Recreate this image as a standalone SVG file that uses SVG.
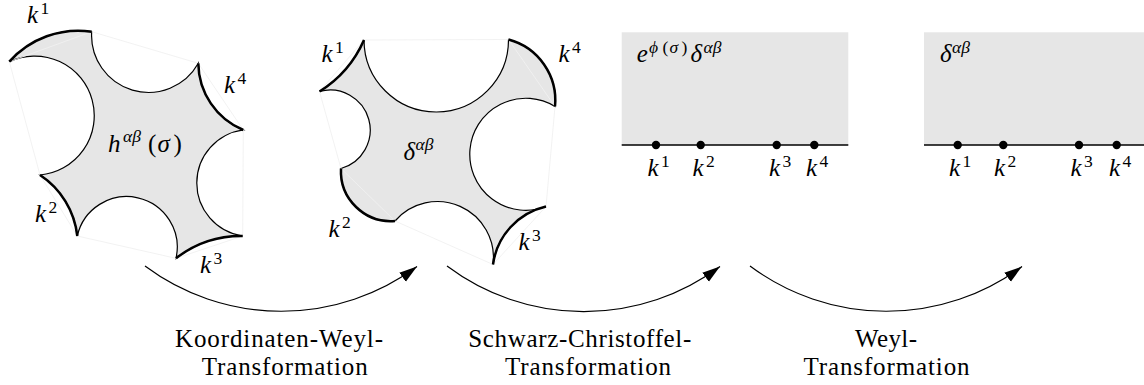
<svg xmlns="http://www.w3.org/2000/svg" width="1144" height="385" viewBox="0 0 1144 385">
<style>
.fill{fill:#e6e6e6;stroke:#000;stroke-width:1.2;stroke-linejoin:miter}
.chord{fill:none;stroke:#f1f1f1;stroke-width:0.9}
.bold{fill:none;stroke:#000;stroke-width:2.5;stroke-linecap:butt}
.axis{fill:none;stroke:#000;stroke-width:1.3}
.dot{fill:#000}
.m{font-size:25px;font-style:italic;fill:#000}
.s{font-size:17.5px}
.r{font-style:normal}
.t{font-size:25px;fill:#000}
.arr{fill:none;stroke:#000;stroke-width:1.2}
</style>
<defs>
<marker id="ah" markerUnits="userSpaceOnUse" markerWidth="20" markerHeight="12" viewBox="0 0 20 12" refX="18" refY="6" orient="auto">
<path d="M0,0.5 L18,6 L0,11.5 Z" fill="#000"/>
</marker>
</defs>

<g font-family="'Liberation Serif', 'DejaVu Serif', serif">
<g id="shape1">
<path class="fill" d="M9.3,61.7 A92,92 0 0 1 91.7,31.7 A57,57 0 0 0 198.3,63.3 A73,73 0 0 0 243.3,130 A53.5,53.5 0 0 0 242.7,236 A106,106 0 0 0 176,258.3 A50,50 0 0 0 77.3,236 A84,84 0 0 0 40,175 A59.6,59.6 0 1 0 9.3,61.7 Z"/>
<polygon class="chord" points="9.3,61.7 91.7,31.7 198.3,63.3 243.3,130 242.7,236 176,258.3 77.3,236 40,175"/>
<path class="bold" d="M9.3,61.7 A92,92 0 0 1 91.7,31.7"/>
<path class="bold" d="M198.3,63.3 A73,73 0 0 0 243.3,130"/>
<path class="bold" d="M242.7,236 A106,106 0 0 0 176,258.3"/>
<path class="bold" d="M77.3,236 A84,84 0 0 0 40,175"/>
<text class="m" x="27" y="23">k<tspan class="s r" x="40.5" y="14">1</tspan></text>
<text class="m" x="224" y="93">k<tspan class="s r" x="237.5" y="84">4</tspan></text>
<text class="m" x="35" y="221.5">k<tspan class="s r" x="48.5" y="212.5">2</tspan></text>
<text class="m" x="200" y="273">k<tspan class="s r" x="213.5" y="264">3</tspan></text>
<text class="m" x="108" y="152">h<tspan class="s" x="123" y="142">αβ</tspan><tspan class="r" x="148" y="152">(</tspan><tspan x="157.5">σ</tspan><tspan class="r" x="173.5">)</tspan></text>
</g>

<g id="shape2">
<path class="fill" d="M319.5,91.5 A115,115 0 0 0 364,40 A72,72 0 0 0 508.5,39.5 A63,63 0 0 1 555,106.5 A56,56 0 1 0 546,206.5 A69,69 0 0 0 493,264.5 A56,56 0 0 0 395,221 A50,50 0 0 1 341,168.5 A39.9,39.9 0 0 0 319.5,91.5 Z"/>
<polygon class="chord" points="319.5,91.5 364,40 508.5,39.5 555,106.5 546,206.5 493,264.5 395,221 341,168.5"/>
<path class="bold" d="M319.5,91.5 A115,115 0 0 0 364,40"/>
<path class="bold" d="M508.5,39.5 A63,63 0 0 1 555,106.5"/>
<path class="bold" d="M546,206.5 A69,69 0 0 0 493,264.5"/>
<path class="bold" d="M395,221 A50,50 0 0 1 341,168.5"/>
<text class="m" x="321.5" y="61.5">k<tspan class="s r" x="335" y="52.5">1</tspan></text>
<text class="m" x="558.5" y="61.5">k<tspan class="s r" x="572" y="52.5">4</tspan></text>
<text class="m" x="328.5" y="236.5">k<tspan class="s r" x="342" y="227.5">2</tspan></text>
<text class="m" x="518.5" y="250">k<tspan class="s r" x="532" y="241">3</tspan></text>
<text class="m" x="403.5" y="159.5">δ<tspan class="s" x="415.5" y="150">αβ</tspan></text>
</g>

<g id="shape3">
<rect x="621.7" y="32.3" width="226.6" height="112.7" fill="#e6e6e6"/>
<line class="axis" x1="621.7" y1="145" x2="848.3" y2="145"/>
<circle class="dot" cx="656" cy="145" r="4.2"/>
<circle class="dot" cx="700.7" cy="145" r="4.2"/>
<circle class="dot" cx="776.7" cy="145" r="4.2"/>
<circle class="dot" cx="814.3" cy="145" r="4.2"/>
<text class="m" x="647.5" y="176">k<tspan class="s r" x="661" y="167">1</tspan></text>
<text class="m" x="692.5" y="176">k<tspan class="s r" x="706" y="167">2</tspan></text>
<text class="m" x="769" y="176">k<tspan class="s r" x="782.5" y="167">3</tspan></text>
<text class="m" x="806" y="176">k<tspan class="s r" x="819.5" y="167">4</tspan></text>
<text class="m" x="636.7" y="61.7">e<tspan class="s" x="649" y="53">ϕ</tspan><tspan class="s r" x="662.5">(</tspan><tspan class="s" x="669.5">σ</tspan><tspan class="s r" x="681.5">)</tspan><tspan x="690.5" y="61.7">δ</tspan><tspan class="s" x="703.5" y="53">αβ</tspan></text>
</g>

<g id="shape4">
<rect x="924" y="32.3" width="220" height="112.7" fill="#e6e6e6"/>
<line class="axis" x1="924" y1="145" x2="1144" y2="145"/>
<circle class="dot" cx="957.7" cy="145" r="4.2"/>
<circle class="dot" cx="1003.3" cy="145" r="4.2"/>
<circle class="dot" cx="1079" cy="145" r="4.2"/>
<circle class="dot" cx="1116.7" cy="145" r="4.2"/>
<text class="m" x="949" y="176">k<tspan class="s r" x="962.5" y="167">1</tspan></text>
<text class="m" x="994" y="176">k<tspan class="s r" x="1007.5" y="167">2</tspan></text>
<text class="m" x="1070.5" y="176">k<tspan class="s r" x="1084" y="167">3</tspan></text>
<text class="m" x="1109" y="176">k<tspan class="s r" x="1122.5" y="167">4</tspan></text>
<text class="m" x="940" y="61.7">δ<tspan class="s" x="952" y="53">αβ</tspan></text>
</g>

<g id="connectors">
<path class="arr" d="M145,266 A228,228 0 0 0 417,266.5" marker-end="url(#ah)"/>
<path class="arr" d="M447,266 A228,228 0 0 0 720,266.5" marker-end="url(#ah)"/>
<path class="arr" d="M750,266 A228,228 0 0 0 1022,266.5" marker-end="url(#ah)"/>
</g>

<g id="labels">
<text class="t" x="175" y="346.7" textLength="208" lengthAdjust="spacing">Koordinaten-Weyl-</text>
<text class="t" x="201.7" y="375" textLength="166" lengthAdjust="spacing">Transformation</text>
<text class="t" x="468.3" y="346.7" textLength="223" lengthAdjust="spacing">Schwarz-Christoffel-</text>
<text class="t" x="505" y="375" textLength="166" lengthAdjust="spacing">Transformation</text>
<text class="t" x="855" y="346.7" textLength="62" lengthAdjust="spacing">Weyl-</text>
<text class="t" x="803.5" y="375" textLength="166" lengthAdjust="spacing">Transformation</text>
</g>
</g>
</svg>
